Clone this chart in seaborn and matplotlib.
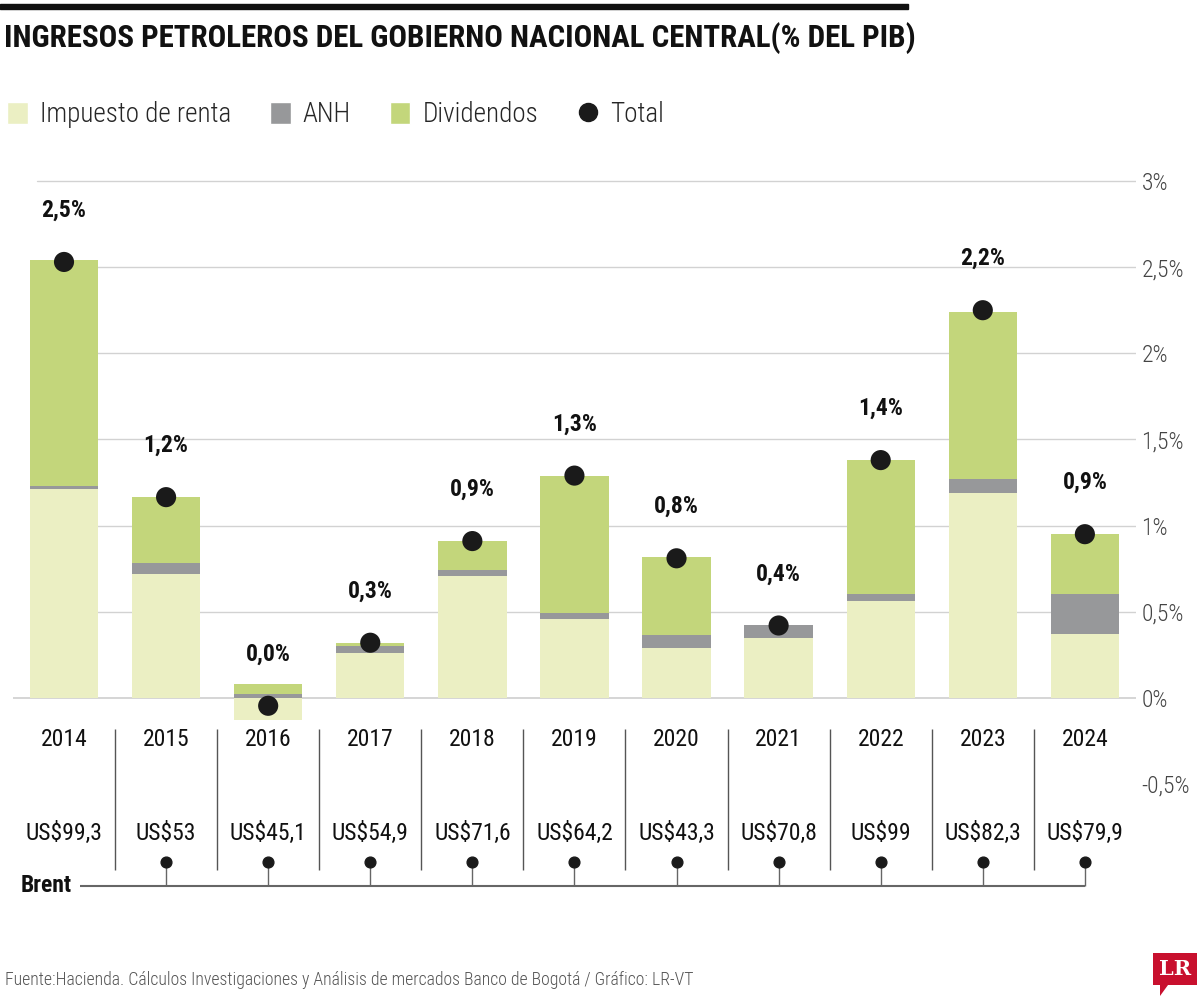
import matplotlib
matplotlib.use("Agg")
import numpy as np
import seaborn as sns
import matplotlib.pyplot as plt
from matplotlib.patches import Patch, Rectangle, Polygon
from matplotlib.lines import Line2D

# data (% del PIB)
years = ["2014", "2015", "2016", "2017", "2018", "2019", "2020", "2021", "2022", "2023", "2024"]
renta = [1.21, 0.72, -0.13, 0.26, 0.71, 0.46, 0.29, 0.35, 0.565, 1.19, 0.37]
anh = [0.02, 0.06, 0.02, 0.04, 0.03, 0.03, 0.075, 0.07, 0.035, 0.08, 0.23]
dividendos = [1.31, 0.385, 0.06, 0.02, 0.17, 0.80, 0.45, 0.0, 0.78, 0.97, 0.35]
total = [2.53, 1.165, -0.046, 0.32, 0.91, 1.29, 0.81, 0.42, 1.38, 2.25, 0.95]
total_labels = ["2,5%", "1,2%", "0,0%", "0,3%", "0,9%", "1,3%", "0,8%", "0,4%", "1,4%", "2,2%", "0,9%"]
brent = [99.3, 53, 45.1, 54.9, 71.6, 64.2, 43.3, 70.8, 99, 82.3, 79.9]
yticks = [-0.5, 0, 0.5, 1, 1.5, 2, 2.5, 3]

C_RENTA = "#ebefc3"
C_ANH = "#97989a"
C_DIV = "#c3d67b"
C_DOT = "#1a1a1a"

sns.set_theme(style="white")
plt.rcParams["font.family"] = ["Roboto Condensed", "DejaVu Sans"]

fig = plt.figure(figsize=(12, 10.01), dpi=100)
ax = fig.add_axes([0.0108, 0.0963, 0.9358, 0.7315])

x = np.arange(len(years))
anh_bottom = np.clip(renta, 0, None)
div_bottom = anh_bottom + np.array(anh)

bar_kw = dict(width=0.67, saturation=1, errorbar=None, linewidth=0, ax=ax)
sns.barplot(x=years, y=renta, color=C_RENTA, **bar_kw)
sns.barplot(x=years, y=anh, bottom=anh_bottom, color=C_ANH, **bar_kw)
sns.barplot(x=years, y=dividendos, bottom=div_bottom, color=C_DIV, **bar_kw)
sns.scatterplot(x=x, y=total, color=C_DOT, s=210, edgecolor="none", zorder=5, legend=False, ax=ax)

for i, (t, lab) in enumerate(zip(total, total_labels)):
    ax.text(i, t + 0.3, lab, ha="center", va="center", fontsize=17, fontweight="bold", color="#111")

# gridlines
for t in yticks:
    if t < 0:
        continue
    ax.axhline(t, xmin=0 if t == 0 else 0.0215, color="#d2d2d2", lw=1.3 if t == 0 else 1, zorder=0)

ax.set_xlim(-0.5, 10.5)
ax.set_ylim(-1.2, 3.05)
ax.set_xticks([])
ax.set_xlabel("")
ax.set_ylabel("")
ax.yaxis.tick_right()
ax.set_yticks(yticks)
ax.set_yticklabels([f"{t:g}%".replace(".", ",") for t in yticks], fontweight="light")
ax.tick_params(axis="y", length=0, pad=4, labelsize=17, labelcolor="#444")
for s in ax.spines.values():
    s.set_visible(False)

# years, brent prices, separators
for i, (yr, b) in enumerate(zip(years, brent)):
    ax.text(i, -0.243, yr, ha="center", va="center", fontsize=17, color="#111")
    ax.text(i, -0.786, f"US${b:g}".replace(".", ","), ha="center", va="center", fontsize=17, color="#111")
ax.vlines(x[:-1] + 0.5, -1.0, -0.18, color="#555", lw=1)
ax.hlines(-1.09, 0.16, x[-1], color="#666", lw=1.5)
ax.vlines(x[1:], -1.09, -0.95, color="#666", lw=1)
ax.scatter(x[1:], [-0.95] * (len(x) - 1), s=60, color=C_DOT, zorder=5)
ax.text(0.08, -1.09, "Brent", ha="right", va="center", fontsize=17, fontweight="bold", color="#111")

# header
fig.add_artist(Rectangle((0, 1 - 9 / 1001), 908 / 1200, 5 / 1001, transform=fig.transFigure, color="#111"))
fig.text(4 / 1200, 1 - 38 / 1001, "INGRESOS PETROLEROS DEL GOBIERNO NACIONAL CENTRAL(% DEL PIB)",
         ha="left", va="center", fontsize=22.3, fontweight="bold", color="#111")

handles = [Patch(fc=C_RENTA), Patch(fc=C_ANH), Patch(fc=C_DIV),
           Line2D([], [], marker="o", ls="", color=C_DOT, markersize=13)]
fig.legend(handles, ["Impuesto de renta", "ANH", "Dividendos", "Total"], loc="center left",
           bbox_to_anchor=(0.006, 1 - 115 / 1001), ncol=4, frameon=False,
           prop={"size": 19.5, "weight": "light"}, borderpad=0,
           handlelength=0.75, handleheight=0.9, handletextpad=0.45, columnspacing=1.45, borderaxespad=0)

# footer
fig.text(5 / 1200, 1 - 980 / 1001,
         "Fuente:Hacienda. Cálculos Investigaciones y Análisis de mercados Banco de Bogotá / Gráfico: LR-VT",
         ha="left", va="center", fontsize=12.8, fontweight="light", color="#555")
fig.add_artist(Polygon([(1160 / 1200, 1 - 985 / 1001), (1168 / 1200, 1 - 985 / 1001),
                        (1160 / 1200, 1 - 996 / 1001)], closed=True, transform=fig.transFigure,
                       fc="#c8102e", ec="none"))
fig.text(1175 / 1200, 1 - 969 / 1001, "LR", ha="center", va="center", fontsize=15, fontweight="bold",
         family="DejaVu Serif", color="white",
         bbox=dict(boxstyle="square,pad=0.3", fc="#c8102e", ec="none"))

fig.savefig("out.png", dpi=100)
